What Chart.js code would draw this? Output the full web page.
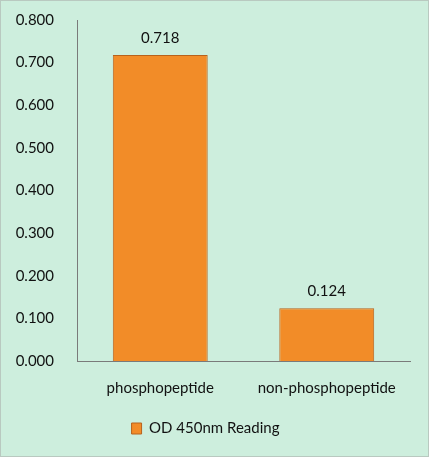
<!DOCTYPE html>
<html>
<head>
<meta charset="utf-8">
<script src="https://cdn.jsdelivr.net/npm/chart.js@4"></script>
<style>
  html, body { margin: 0; padding: 0; background: #cdeedd; }
  #wrap { width: 429px; height: 457px; box-sizing: border-box; border: 1px solid #b9c9c0; }
</style>
</head>
<body>
<div id="wrap"><canvas id="odChart" width="427" height="455"></canvas></div>
<script>
const categories = ['phosphopeptide', 'non-phosphopeptide'];
const readings = [0.718, 0.124];
const seriesName = 'OD 450nm Reading';

const fontFamily = 'Lato, "Open Sans", sans-serif';

// value labels over the bars
const valueLabels = {
  id: 'valueLabels',
  afterDatasetsDraw(chart) {
    const ctx = chart.ctx;
    const meta = chart.getDatasetMeta(0);
    ctx.save();
    ctx.font = '15px ' + fontFamily;
    ctx.fillStyle = '#111';
    ctx.textAlign = 'center';
    ctx.textBaseline = 'bottom';
    meta.data.forEach((bar, i) => {
      ctx.fillText(readings[i].toFixed(3), bar.x, bar.y - 9);
    });
    ctx.restore();
  }
};

function barFill(context) {
  const chart = context.chart;
  const bar = chart.getDatasetMeta(0).data[context.dataIndex];
  if (!bar || !isFinite(bar.x) || !bar.width) return '#f28c28';
  const g = chart.ctx.createLinearGradient(bar.x - bar.width / 2, 0, bar.x + bar.width / 2, 0);
  g.addColorStop(0, '#e0781c');
  g.addColorStop(0.15, '#f28a26');
  g.addColorStop(0.85, '#f6952f');
  g.addColorStop(1, '#e07a20');
  return g;
}

new Chart(document.getElementById('odChart'), {
  type: 'bar',
  data: {
    labels: categories,
    datasets: [{
      label: seriesName,
      data: readings,
      backgroundColor: barFill,
      borderColor: '#b8621c',
      borderWidth: 1,
      borderSkipped: 'bottom',
      categoryPercentage: 0.57,
      barPercentage: 1
    }]
  },
  options: {
    responsive: false,
    animation: false,
    layout: { padding: { top: 19, right: 18, bottom: 10, left: 0 } },
    plugins: {
      legend: {
        position: 'bottom',
        labels: {
          font: { family: fontFamily, size: 15 },
          color: '#111',
          boxWidth: 10,
          boxHeight: 11,
          padding: 10
        }
      },
      tooltip: { enabled: false }
    },
    scales: {
      x: {
        grid: { display: false },
        border: { display: true, color: '#7a7a7a', width: 1 },
        ticks: { font: { family: fontFamily, size: 15 }, color: '#111', padding: 10 },
        afterFit(scale) { scale.height = 50; }
      },
      y: {
        min: 0,
        max: 0.8,
        grid: { display: false },
        border: { display: true, color: '#7a7a7a', width: 1 },
        ticks: {
          stepSize: 0.1,
          font: { family: fontFamily, size: 15 },
          color: '#111',
          padding: 15,
          callback: v => v.toFixed(3)
        },
        afterFit(scale) {
          scale.width = 76;
          scale.paddingTop = 0;
          scale.paddingBottom = 0;
        }
      }
    }
  },
  plugins: [valueLabels]
});
</script>
</body>
</html>
